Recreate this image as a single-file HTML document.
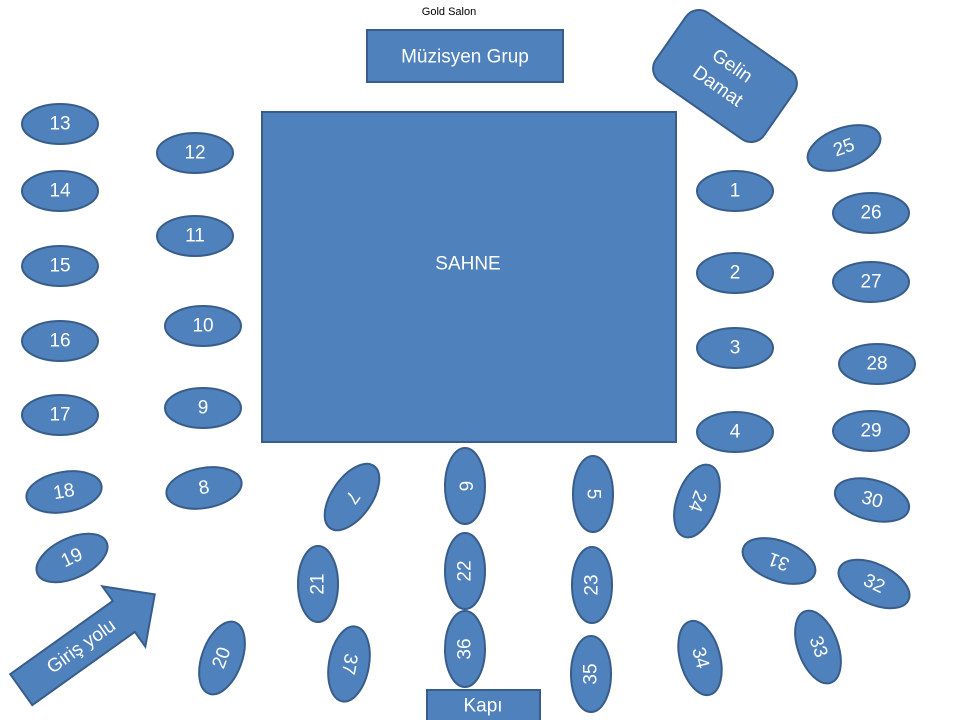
<!DOCTYPE html>
<html><head><meta charset="utf-8"><style>
body{margin:0;background:#fff;}
svg{display:block;}
text{font-family:"Liberation Sans",sans-serif;fill:#fff;text-anchor:middle;dominant-baseline:central;font-size:19px;}
.s{fill:#4f81bd;stroke:#385d8a;stroke-width:2;}
</style></head><body>
<svg width="960" height="720" viewBox="0 0 960 720">
<defs><ellipse id="o" class="s" rx="38" ry="20"/></defs>
<text x="449" y="12" style="fill:#000;font-size:11px">Gold Salon</text>
<rect class="s" x="367" y="30" width="196" height="52"/>
<text x="465" y="57">Müzisyen Grup</text>
<rect class="s" x="262" y="112" width="414" height="330"/>
<text x="468" y="264">SAHNE</text>
<rect class="s" x="427" y="690" width="113" height="40"/>
<text x="483" y="706">Kapı</text>
<g transform="translate(725,76) rotate(35)">
<rect class="s" x="-66" y="-42" width="132" height="84" rx="16"/>
<text y="-12">Gelin</text>
<text y="13">Damat</text>
</g>
<g transform="translate(88,642) rotate(-35.5)">
<polygon class="s" points="-82,-19 44,-19 44,-37 82,0 44,37 44,19 -82,19"/>
<text x="-8" y="0">Giriş yolu</text>
</g>
<g transform="translate(60,124)"><use href="#o"/><text>13</text></g>
<g transform="translate(60,191)"><use href="#o"/><text>14</text></g>
<g transform="translate(60,266)"><use href="#o"/><text>15</text></g>
<g transform="translate(60,341)"><use href="#o"/><text>16</text></g>
<g transform="translate(60,415)"><use href="#o"/><text>17</text></g>
<g transform="translate(195,153)"><use href="#o"/><text>12</text></g>
<g transform="translate(195,236)"><use href="#o"/><text>11</text></g>
<g transform="translate(203,326)"><use href="#o"/><text>10</text></g>
<g transform="translate(203,408)"><use href="#o"/><text>9</text></g>
<g transform="translate(204,488) rotate(-10)"><use href="#o"/><text>8</text></g>
<g transform="translate(64,492) rotate(-10)"><use href="#o"/><text>18</text></g>
<g transform="translate(72,558) rotate(-25)"><use href="#o"/><text>19</text></g>
<g transform="translate(735,191)"><use href="#o"/><text>1</text></g>
<g transform="translate(735,273)"><use href="#o"/><text>2</text></g>
<g transform="translate(735,348)"><use href="#o"/><text>3</text></g>
<g transform="translate(735,432)"><use href="#o"/><text>4</text></g>
<g transform="translate(844,148) rotate(-20)"><use href="#o"/><text>25</text></g>
<g transform="translate(871,213)"><use href="#o"/><text>26</text></g>
<g transform="translate(871,282)"><use href="#o"/><text>27</text></g>
<g transform="translate(877,364)"><use href="#o"/><text>28</text></g>
<g transform="translate(871,431)"><use href="#o"/><text>29</text></g>
<g transform="translate(872,500) rotate(15)"><use href="#o"/><text>30</text></g>
<g transform="translate(779,561) rotate(200)"><use href="#o"/><text>31</text></g>
<g transform="translate(874,584) rotate(25)"><use href="#o"/><text>32</text></g>
<g transform="translate(818,647) rotate(70)"><use href="#o"/><text>33</text></g>
<g transform="translate(700,658) rotate(75)"><use href="#o"/><text>34</text></g>
<g transform="translate(697,501) rotate(110)"><use href="#o"/><text>24</text></g>
<g transform="translate(465,486) rotate(90)"><use href="#o"/><text>6</text></g>
<g transform="translate(593,494) rotate(90)"><use href="#o"/><text>5</text></g>
<g transform="translate(465,571) rotate(-90)"><use href="#o"/><text>22</text></g>
<g transform="translate(592,585) rotate(-90)"><use href="#o"/><text>23</text></g>
<g transform="translate(465,649) rotate(-90)"><use href="#o"/><text>36</text></g>
<g transform="translate(591,674) rotate(-90)"><use href="#o"/><text>35</text></g>
<g transform="translate(318,584) rotate(-90)"><use href="#o"/><text>21</text></g>
<g transform="translate(222,658) rotate(-70)"><use href="#o"/><text>20</text></g>
<g transform="translate(352,497) rotate(125)"><use href="#o"/><text>7</text></g>
<g transform="translate(349,664) rotate(100)"><use href="#o"/><text>37</text></g>
</svg>
</body></html>
